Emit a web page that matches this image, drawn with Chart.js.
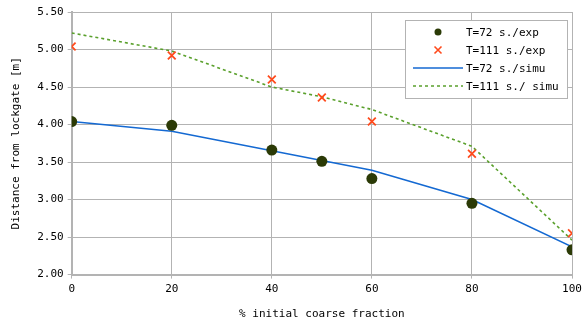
<!DOCTYPE html>
<html>
<head>
<meta charset="utf-8">
<script src="https://cdn.jsdelivr.net/npm/chart.js@4/dist/chart.umd.min.js"></script>
<style>
  html, body { margin: 0; padding: 0; background: #fff; }
  #wrap { width: 583px; height: 321px; }
</style>
</head>
<body>
<div id="wrap"><canvas id="c" width="583" height="321"></canvas></div>
<script>
// coarse fraction (%)
const fractions = [0, 20, 40, 50, 60, 80, 100];
const exp72 = [4.04, 3.99, 3.66, 3.51, 3.28, 2.95, 2.33];
const exp111 = [5.04, 4.92, 4.60, 4.36, 4.04, 3.61, 2.55];
const simu72 = [4.04, 3.91, 3.65, 3.52, 3.39, 3.00, 2.37];
const simu111 = [5.22, 4.98, 4.50, 4.37, 4.20, 3.71, 2.46];
const seriesNames = ['T=72 s./exp', 'T=111 s./exp', 'T=72 s./simu', 'T=111 s./ simu'];

const mono = '"DejaVu Sans Mono", monospace';
const gridColor = '#b3b3b3';

function toPoints(vals) {
  return fractions.map((f, i) => ({ x: f, y: vals[i] }));
}

// legend box drawn inside the plot, top right
const boxLegend = {
  id: 'boxLegend',
  afterDraw(chart) {
    const ctx = chart.ctx;
    const x0 = 405, y0 = 20, w = 162, h = 78;
    ctx.save();
    ctx.fillStyle = '#fff';
    ctx.fillRect(x0, y0, w, h);
    ctx.strokeStyle = '#b3b3b3';
    ctx.lineWidth = 1;
    ctx.strokeRect(x0 + 0.5, y0 + 0.5, w, h);
    ctx.font = '11px ' + mono;
    ctx.textBaseline = 'middle';
    chart.data.datasets.forEach((ds, i) => {
      const y = y0 + 12 + i * 18;
      const sx = 438;
      if (ds.showLine) {
        ctx.beginPath();
        ctx.strokeStyle = ds.borderColor;
        ctx.lineWidth = ds.borderWidth;
        ctx.setLineDash(ds.borderDash || []);
        ctx.moveTo(413, y);
        ctx.lineTo(463, y);
        ctx.stroke();
        ctx.setLineDash([]);
      } else if (ds.pointStyle === 'crossRot') {
        ctx.beginPath();
        ctx.strokeStyle = ds.borderColor;
        ctx.lineWidth = 1.6;
        ctx.moveTo(sx - 3.5, y - 3.5); ctx.lineTo(sx + 3.5, y + 3.5);
        ctx.moveTo(sx + 3.5, y - 3.5); ctx.lineTo(sx - 3.5, y + 3.5);
        ctx.stroke();
      } else {
        ctx.beginPath();
        ctx.fillStyle = ds.backgroundColor;
        ctx.arc(sx, y, 3.5, 0, Math.PI * 2);
        ctx.fill();
      }
      ctx.fillStyle = '#000';
      ctx.fillText(ds.label, 466, y + 1);
    });
    ctx.restore();
  }
};

new Chart(document.getElementById('c'), {
  type: 'scatter',
  data: {
    datasets: [
      {
        label: seriesNames[0],
        data: toPoints(exp72),
        showLine: false,
        pointStyle: 'circle',
        pointRadius: 5.5,
        backgroundColor: '#2b3a06',
        borderColor: '#2b3a06',
        borderWidth: 0,
        order: 0
      },
      {
        label: seriesNames[1],
        data: toPoints(exp111),
        showLine: false,
        pointStyle: 'crossRot',
        pointRadius: 5.5,
        borderColor: '#ff4a1c',
        backgroundColor: '#ff4a1c',
        pointBorderWidth: 1.8,
        order: 0
      },
      {
        label: seriesNames[2],
        data: toPoints(simu72),
        showLine: true,
        pointRadius: 0,
        borderColor: '#1469d2',
        backgroundColor: '#1469d2',
        borderWidth: 1.6,
        tension: 0,
        order: 1
      },
      {
        label: seriesNames[3],
        data: toPoints(simu111),
        showLine: true,
        pointRadius: 0,
        borderColor: '#5aa02c',
        backgroundColor: '#5aa02c',
        borderWidth: 1.6,
        borderDash: [3, 3],
        tension: 0,
        order: 1
      }
    ]
  },
  options: {
    responsive: false,
    animation: false,
    events: [],
    layout: { padding: { left: 10, right: 0, top: 12, bottom: 0 } },
    plugins: {
      legend: { display: false },
      tooltip: { enabled: false }
    },
    scales: {
      x: {
        type: 'linear',
        min: 0,
        max: 100,
        afterFit: s => { s.paddingRight = 11; },
        ticks: {
          stepSize: 20,
          color: '#000',
          font: { family: mono, size: 11 },
          padding: 4
        },
        grid: { color: gridColor, lineWidth: 1, tickLength: 4 },
        border: { color: gridColor, width: 2 },
        title: {
          display: true,
          text: '% initial coarse fraction',
          color: '#000',
          font: { family: mono, size: 11 },
          padding: { top: 8, bottom: 0 }
        }
      },
      y: {
        min: 2,
        max: 5.5,
        ticks: {
          stepSize: 0.5,
          color: '#000',
          font: { family: mono, size: 11 },
          padding: 4,
          callback: v => v.toFixed(2)
        },
        grid: { color: gridColor, lineWidth: 1, tickLength: 4 },
        border: { color: gridColor, width: 2 },
        title: {
          display: true,
          text: 'Distance from lockgate [m]',
          color: '#000',
          font: { family: mono, size: 11 },
          padding: { top: 0, bottom: 10 }
        }
      }
    }
  },
  plugins: [boxLegend]
});
</script>
</body>
</html>
